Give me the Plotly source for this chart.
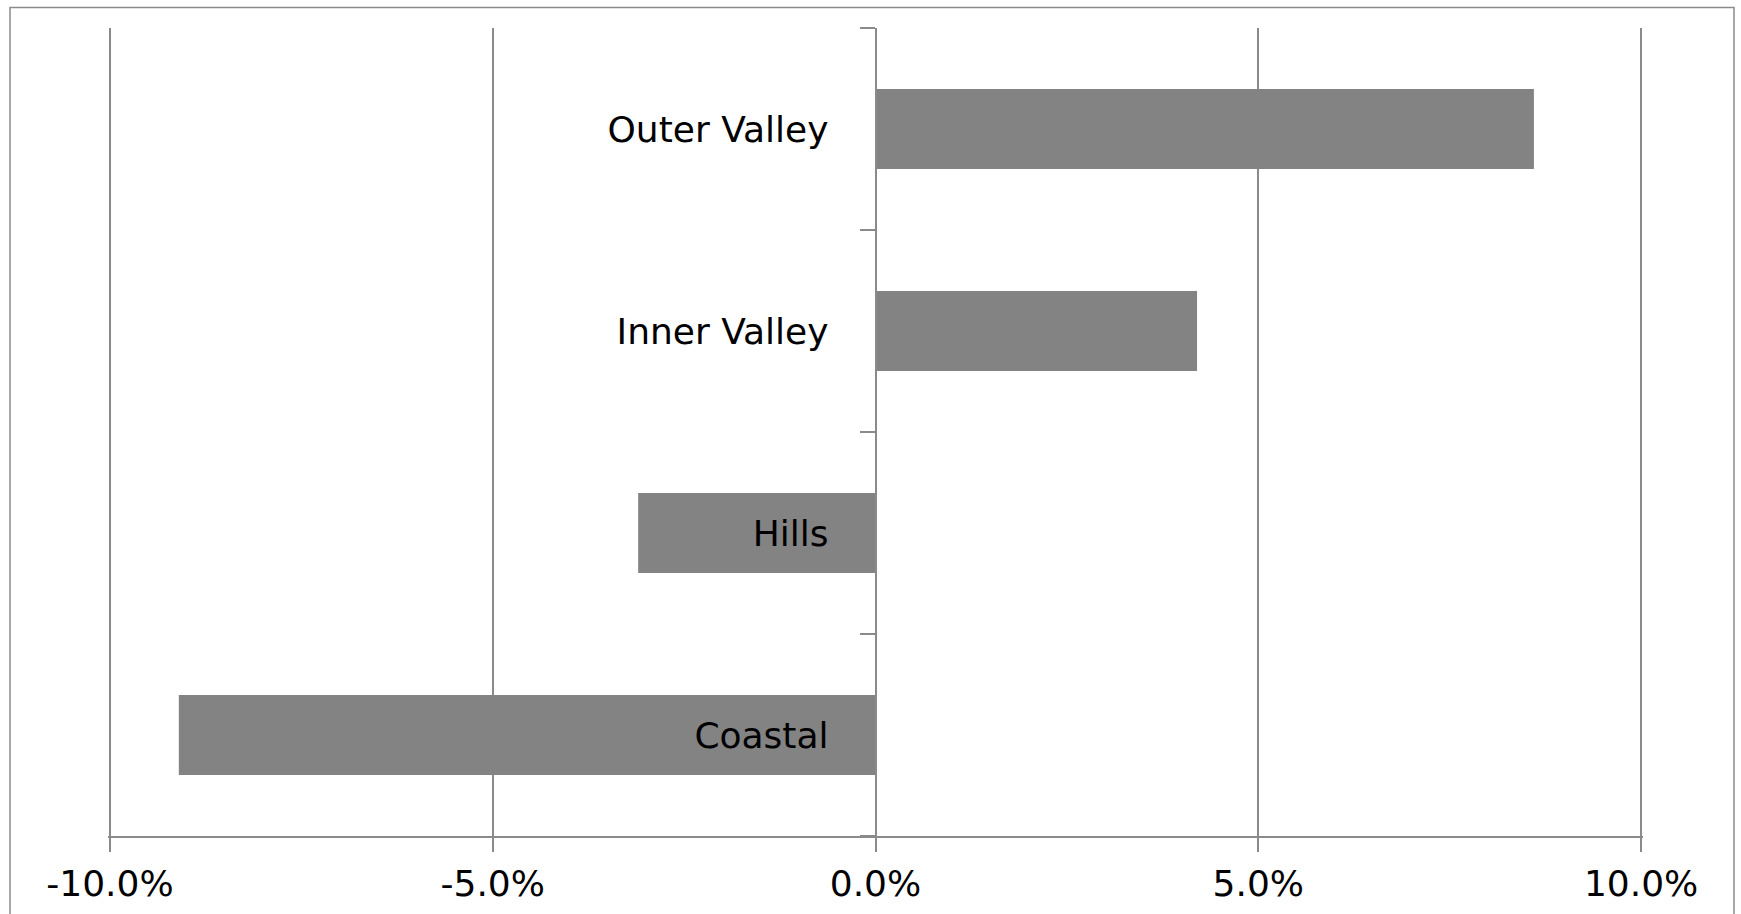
import plotly.graph_objects as go

# Regional change, bottom to top
regions = ["Coastal", "Hills", "Inner Valley", "Outer Valley"]
change = [-0.091, -0.031, 0.042, 0.086]

x_ticks = [-0.10, -0.05, 0.0, 0.05, 0.10]
x_tick_labels = ["-10.0%", "-5.0%", "0.0%", "5.0%", "10.0%"]

W, H = 1741, 914
M_L, M_R, M_T, M_B = 108, 98, 28, 78
GRAY = "#8a8a8a"
FONT = "DejaVu Sans"
PAD = 0.00025  # keeps the edge gridlines at -10% / 10% visible

fig = go.Figure(
    go.Bar(
        x=change,
        y=regions,
        orientation="h",
        marker=dict(color="#838383", line=dict(width=0)),
        hoverinfo="x+y",
    )
)

plot_w = W - M_L - M_R
plot_h = H - M_T - M_B

fig.update_layout(
    width=W,
    height=H,
    autosize=False,
    margin=dict(l=M_L, r=M_R, t=M_T, b=M_B, pad=0, autoexpand=False),
    paper_bgcolor="white",
    plot_bgcolor="white",
    bargap=0.604,
    showlegend=False,
    font=dict(family=FONT, size=36, color="black"),
    xaxis=dict(
        range=[x_ticks[0] - PAD, x_ticks[-1] + PAD],
        tickvals=x_ticks,
        ticktext=x_tick_labels,
        showgrid=True,
        gridcolor=GRAY,
        gridwidth=1.5,
        zeroline=False,
        showline=True,
        linecolor=GRAY,
        linewidth=1.5,
        ticks="outside",
        ticklen=14,
        tickwidth=1.5,
        tickcolor=GRAY,
        ticklabelstandoff=1,
        tickfont=dict(family=FONT, size=36, color="black"),
        automargin=False,
        fixedrange=True,
    ),
    yaxis=dict(
        categoryorder="array",
        categoryarray=regions,
        anchor="free",
        position=0.5,
        showgrid=False,
        zeroline=False,
        showline=True,
        linecolor=GRAY,
        linewidth=1.5,
        ticks="outside",
        tickson="boundaries",
        ticklen=15,
        tickwidth=1.5,
        tickcolor=GRAY,
        ticklabelstandoff=39,
        tickfont=dict(family=FONT, size=36, color="black"),
        layer="above traces",
        automargin=False,
        fixedrange=True,
    ),
    shapes=[
        # chart frame; its lower edge runs past the bottom of the page
        dict(
            type="rect",
            xref="paper",
            yref="paper",
            x0=(10 - M_L) / plot_w,
            x1=(1734 - M_L) / plot_w,
            y0=(M_T + plot_h - 925) / plot_h,
            y1=(M_T + plot_h - 7.5) / plot_h,
            line=dict(color=GRAY, width=1.5),
            fillcolor="rgba(0,0,0,0)",
            layer="below",
        )
    ],
)

fig.write_html("out.html", config={"displayModeBar": False})
